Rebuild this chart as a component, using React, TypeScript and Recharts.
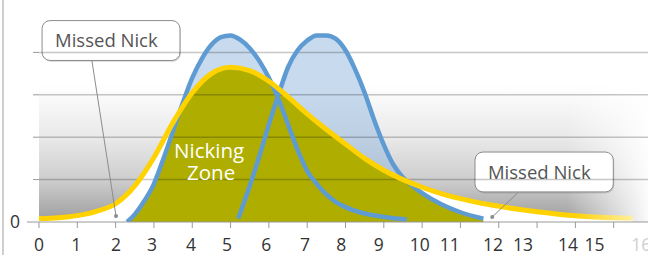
import React from 'react';
import {
  ComposedChart,
  Area,
  Line,
  XAxis,
  YAxis,
  ReferenceLine,
  ReferenceArea,
  ReferenceDot,
} from 'recharts';

// ---------- data ----------
const yellowX = [0, 0.5, 1, 1.5, 2, 2.5, 3, 3.5, 4, 4.5, 5, 5.5, 6, 6.5, 7, 7.5, 8, 8.5, 9, 9.5, 10, 10.5, 11, 11.5, 12, 12.5, 13, 13.5, 14, 14.5, 15, 15.5];
const yellowY = [0.08, 0.1, 0.15, 0.25, 0.43, 0.85, 1.52, 2.35, 3.05, 3.5, 3.65, 3.57, 3.32, 2.95, 2.55, 2.18, 1.84, 1.5, 1.22, 1.0, 0.82, 0.67, 0.55, 0.45, 0.37, 0.3, 0.24, 0.19, 0.15, 0.12, 0.1, 0.09];

const blue1X = [2.3, 2.5, 2.75, 3, 3.25, 3.5, 3.75, 4, 4.25, 4.5, 4.75, 5, 5.25, 5.5, 5.75, 6, 6.25, 6.5, 6.75, 7, 7.25, 7.5, 7.75, 8, 8.5, 9, 9.6];
const blue1Y = [0, 0.18, 0.5, 0.9, 1.5, 2.15, 2.8, 3.4, 3.85, 4.18, 4.36, 4.4, 4.3, 4.1, 3.8, 3.4, 2.9, 2.3, 1.7, 1.2, 0.9, 0.65, 0.47, 0.35, 0.2, 0.12, 0.06];

const blue2X = [5.2, 5.5, 5.75, 6, 6.25, 6.5, 6.75, 7, 7.25, 7.5, 7.75, 8, 8.25, 8.5, 8.75, 9, 9.25, 9.5, 9.75, 10, 10.5, 11, 11.6];
const blue2Y = [0.08, 0.85, 1.55, 2.3, 3.0, 3.65, 4.05, 4.28, 4.4, 4.4, 4.32, 4.05, 3.6, 3.05, 2.4, 1.82, 1.35, 1.05, 0.85, 0.68, 0.42, 0.23, 0.08];

const zoneX = [2.3, 2.5, 2.75, 3, 3.25, 3.5, 3.7, 4, 4.5, 5, 5.5, 6, 6.5, 7, 7.5, 8, 8.5, 9, 9.5, 9.75, 10, 10.5, 11, 11.6];
const zoneY = [0, 0.18, 0.5, 0.9, 1.5, 2.15, 2.68, 3.05, 3.5, 3.65, 3.57, 3.32, 2.95, 2.55, 2.18, 1.84, 1.5, 1.22, 1.0, 0.85, 0.68, 0.42, 0.23, 0.05];

const tickMarks = [0, 1, 2, 3, 4, 5, 6, 7, 8, 9, 10, 11, 12, 13, 14, 15, 16];
const tickLabels = ['0', '1', '2', '3', '4', '5', '6', '7', '8', '9', '10', '11', '12', '13', '14', '15', '16'];
const tickLabelAt = [0, 0.97, 2.01, 2.95, 3.97, 4.91, 5.93, 6.94, 7.89, 8.87, 9.94, 10.72, 11.85, 12.63, 13.81, 14.5, 15.72];
const yTicks = [0, 1, 2, 3, 4];
const xDomain = [0, 16];

const calloutText = 'Missed Nick';
const callout1Box = { x1: 0.08, x2: 3.68, y1: 3.81, y2: 4.75 };
const callout1Line = [{ x: 1.38, y: 3.81 }, { x: 2.01, y: 0.14 }];
const callout2Box = { x1: 11.38, x2: 14.99, y1: 0.71, y2: 1.65 };
const callout2Line = [{ x: 12.5, y: 0.69 }, { x: 11.83, y: 0.12 }];
const zoneLabel = ['Nicking', 'Zone'];
const zoneLabelAt = { x: 4.44, y: 1.5 };
const bgTop = 3.25;

const toRows = (xs: number[], ys: number[]) => xs.map((x, i) => ({ x, y: ys[i] }));
const yellowData = toRows(yellowX, yellowY);
const blue1Data = toRows(blue1X, blue1Y);
const blue2Data = toRows(blue2X, blue2Y);
const zoneData = toRows(zoneX, zoneY);
const gridData = yTicks.filter((v) => v > 0).map((v) => toRows(xDomain, [v, v]));

const FONT = "'Open Sans', 'Noto Sans', sans-serif";
const BLUE = '#5F9BD3';
const YELLOW = '#FFD200';
const OLIVE = '#AEAD00';

const CalloutShape = (p: any) => {
  const { x, y, width, height } = p;
  return (
    <g>
      <rect x={x + 1} y={y + 1.5} width={width} height={height} rx={8} ry={8} fill="#000" fillOpacity={0.12} />
      <rect x={x} y={y} width={width} height={height} rx={8} ry={8} fill="#fff" stroke="#8c8c8c" strokeWidth={1} />
      <text x={x + 13} y={y + 26.5} fontFamily={FONT} fontSize={18.5} fill="#555">
        {calloutText}
      </text>
    </g>
  );
};

const YTick = (p: any) => {
  const { x, y, payload } = p;
  const v = payload.value;
  return (
    <g>
      <line x1={v === 0 ? x - 12 : x - 6} x2={x} y1={y} y2={y} stroke="#999" strokeWidth={1} />
      {v === 0 && (
        <text x={x - 19} y={y + 5.5} textAnchor="end" fontFamily={FONT} fontSize={17.5} fill="#333">
          0
        </text>
      )}
    </g>
  );
};

const XLabelTick = (p: any) => {
  const { x, y, index } = p;
  const last = index === tickLabels.length - 1;
  return (
    <text x={x} y={y + 23} textAnchor="middle" fontFamily={FONT} fontSize={17.5} fill={last ? '#cfcfcf' : '#333'}>
      {tickLabels[index]}
    </text>
  );
};

const NoTick = () => <g />;

const ZoneText = (p: any) => {
  const { cx, cy } = p;
  return (
    <text x={cx} y={cy} textAnchor="middle" fontFamily={FONT} fontSize={20.5} fill="#fff">
      <tspan x={cx}>{zoneLabel[0]}</tspan>
      <tspan x={cx + 2} dy={22}>{zoneLabel[1]}</tspan>
    </text>
  );
};

export default function App() {
  return (
    <div style={{ position: 'absolute', left: 0, top: 0, width: 648, height: 255, overflow: 'hidden', background: '#fff' }}>
      <div style={{ position: 'absolute', left: 2, top: 0, width: 2, height: 255, background: '#cfcfcf' }} />
      <ComposedChart width={660} height={255} margin={{ top: 10, right: 8, bottom: 0, left: 0 }}>
        <defs>
          <linearGradient id="bgV" x1="0" y1="0" x2="0" y2="1">
            <stop offset="0" stopColor="#ffffff" />
            <stop offset="0.4" stopColor="#e8e8e8" />
            <stop offset="0.7" stopColor="#cdcdcd" />
            <stop offset="1" stopColor="#9c9c9c" />
          </linearGradient>
          <linearGradient id="bgH" x1="0" y1="0" x2="1" y2="0">
            <stop offset="0" stopColor="#ffffff" stopOpacity={0} />
            <stop offset="0.86" stopColor="#ffffff" stopOpacity={0} />
            <stop offset="1" stopColor="#ffffff" stopOpacity={1} />
          </linearGradient>
          <linearGradient id="yellowStroke" x1="0" y1="0" x2="1" y2="0">
            <stop offset="0" stopColor={YELLOW} />
            <stop offset="0.9" stopColor={YELLOW} />
            <stop offset="1" stopColor="#FFEFA0" />
          </linearGradient>
        </defs>
        <XAxis
          xAxisId="a"
          type="number"
          dataKey="x"
          domain={xDomain}
          ticks={tickMarks}
          interval={0}
          allowDataOverflow
          height={6}
          tickSize={6}
          tick={NoTick}
          tickLine={{ stroke: '#999' }}
          axisLine={{ stroke: '#999' }}
        />
        <XAxis
          xAxisId="b"
          type="number"
          dataKey="x"
          domain={xDomain}
          ticks={tickLabelAt}
          interval={0}
          allowDataOverflow
          height={27}
          tickSize={0}
          tickMargin={0}
          tickLine={false}
          axisLine={false}
          tick={XLabelTick}
        />
        <YAxis
          type="number"
          domain={[0, 5]}
          ticks={yTicks}
          interval={0}
          allowDataOverflow
          width={39}
          tickSize={0}
          tickMargin={0}
          tickLine={false}
          axisLine={false}
          tick={YTick}
        />
        <ReferenceArea xAxisId="a" x1={0} x2={16} y1={0} y2={bgTop} fill="url(#bgV)" fillOpacity={1} stroke="none" />
        <ReferenceArea xAxisId="a" x1={0} x2={16} y1={0} y2={bgTop} fill="url(#bgH)" fillOpacity={1} stroke="none" />

        <Area xAxisId="a" data={blue1Data} dataKey="y" type="monotone" stroke="none" fill="#8FB6DE" fillOpacity={0.5} isAnimationActive={false} />
        <Area xAxisId="a" data={blue2Data} dataKey="y" type="monotone" stroke="none" fill="#8FB6DE" fillOpacity={0.5} isAnimationActive={false} />
        <Area xAxisId="a" data={yellowData} dataKey="y" type="monotone" stroke="none" fill="#ffffff" fillOpacity={1} isAnimationActive={false} />
        <Area xAxisId="a" data={zoneData} dataKey="y" type="monotone" stroke="none" fill={OLIVE} fillOpacity={1} isAnimationActive={false} />

        {gridData.map((d, i) => (
          <Line
            key={`g${i}`}
            xAxisId="a"
            data={d}
            dataKey="y"
            type="linear"
            stroke="#000"
            strokeOpacity={0.22}
            strokeWidth={1.5}
            dot={false}
            activeDot={false}
            isAnimationActive={false}
          />
        ))}

        <Line xAxisId="a" data={blue1Data} dataKey="y" type="monotone" stroke={BLUE} strokeWidth={4.5} dot={false} isAnimationActive={false} />
        <Line xAxisId="a" data={blue2Data} dataKey="y" type="monotone" stroke={BLUE} strokeWidth={4.5} dot={false} isAnimationActive={false} />
        <Line xAxisId="a" data={yellowData} dataKey="y" type="monotone" stroke="url(#yellowStroke)" strokeWidth={5} dot={false} isAnimationActive={false} />

        <ReferenceDot xAxisId="a" x={zoneLabelAt.x} y={zoneLabelAt.y} shape={ZoneText} />

        <ReferenceLine xAxisId="a" segment={callout1Line} stroke="#8c8c8c" strokeWidth={1} />
        <ReferenceLine xAxisId="a" segment={callout2Line} stroke="#8c8c8c" strokeWidth={1} />
        <ReferenceDot xAxisId="a" x={callout1Line[1].x} y={callout1Line[1].y} r={2} fill="#8c8c8c" stroke="none" />
        <ReferenceDot xAxisId="a" x={callout2Line[1].x} y={callout2Line[1].y} r={2} fill="#8c8c8c" stroke="none" />
        <ReferenceArea xAxisId="a" {...callout1Box} shape={CalloutShape} />
        <ReferenceArea xAxisId="a" {...callout2Box} shape={CalloutShape} />
      </ComposedChart>
    </div>
  );
}
